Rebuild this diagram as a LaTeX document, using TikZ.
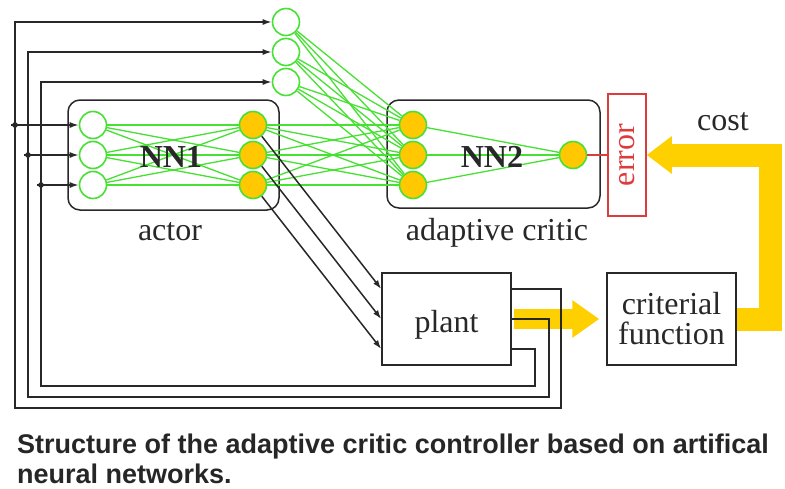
\documentclass[tikz,border=0pt]{standalone}
\usepackage{fontspec}
\setmainfont{Liberation Serif}
\newfontfamily\capfont{Liberation Sans}
\usetikzlibrary{arrows.meta}
\definecolor{nngreen}{RGB}{70,225,50}
\definecolor{nnyellow}{RGB}{255,200,0}
\definecolor{flowyellow}{RGB}{255,208,0}
\definecolor{errred}{RGB}{220,60,60}
\definecolor{linegray}{RGB}{40,40,40}
\begin{document}
\begin{tikzpicture}[x=1pt,y=-1pt,
  box/.style={draw=linegray,line width=1.5pt,rectangle,inner sep=0pt},
  nnbox/.style={box,rounded corners=12pt},
  inneuron/.style={circle,draw=nngreen,fill=white,line width=1.6pt,minimum size=27pt,inner sep=0pt},
  outneuron/.style={inneuron,fill=nnyellow},
  syn/.style={draw=nngreen,line width=1.3pt},
  sig/.style={draw=linegray,line width=1.5pt,-{Latex[length=9pt,width=6pt]}},
  flowA/.style={draw=flowyellow,line width=20pt,-{Triangle[length=27pt,width=36pt]}},
  flowB/.style={draw=flowyellow,line width=23pt,-{Triangle[length=25pt,width=36pt]}},
  txt/.style={font=\fontsize{32}{30}\selectfont,text=linegray,inner sep=0pt},
  lbl/.style={txt,anchor=base},
  nnlbl/.style={txt,font=\fontsize{32}{30}\selectfont\bfseries},
]
\useasboundingbox (0,0) rectangle (785,488);

% boxes
\node[nnbox,minimum width=211pt,minimum height=110pt] (actor) at (173.5,155) {};
\node[nnbox,minimum width=213pt,minimum height=108pt] (critic) at (493.5,154) {};
\node[box,draw=errred,minimum width=38pt,minimum height=122pt,text=errred,font=\fontsize{32}{30}\selectfont] (error) at (627,155) {\rotatebox{90}{error}};
\node[box,minimum width=129pt,minimum height=92pt] (plant) at (446.5,319) {};
\node[box,minimum width=129pt,minimum height=92pt,txt,align=center] (crit) at (671.5,319) {criterial\\function};

% yellow flows
\coordinate (costcorner) at (770,319);
\draw[flowA] ([xshift=2pt]plant.east) -- ([xshift=-7pt]crit.west);
\draw[flowB] (crit.east) -- (costcorner) |- (error.east);

% neurons
\foreach \i/\y in {1/125,2/155,3/185} {
  \node[inneuron] (a\i) at (93,\y) {};
  \node[outneuron] (b\i) at (253,\y) {};
  \node[outneuron] (c\i) at (413,\y) {};
}
\foreach \i/\y in {1/22,2/52,3/82} \node[inneuron] (t\i) at (286,\y) {};
\node[outneuron] (co) at (573,155) {};

% synapses
\foreach \i in {1,2,3} {
  \foreach \j in {1,2,3} {
    \draw[syn] (a\i) -- (b\j);
    \draw[syn] (b\i) -- (c\j);
    \draw[syn] (t\i) -- (c\j);
  }
  \draw[syn] (c\i) -- (co);
}
\draw[errred,line width=1.2pt] (co) -- (error);

% labels
\node[nnlbl] (nn1) at (171,157) {NN1};
\node[nnlbl] (nn2) at (492,157) {NN2};
\node[lbl] (actorlbl) at (170,240) {actor};
\node[lbl] (criticlbl) at (497,240) {adaptive critic};
\node[lbl] (costlbl) at (723,130) {cost};
\node[lbl] (plantlbl) at (446.5,332) {plant};

% actor to plant
\draw[sig] (b1) -- ([yshift=30pt]plant.west);
\draw[sig] (b2) -- (plant.west);
\draw[sig] (b3) -- ([yshift=-30pt]plant.west);

% feedback loops
\draw[sig] ([yshift=30pt]plant.east) -| (561,408) -| (15,22) -- (t1);
\draw[sig] (plant.east) -| (549,397) -| (28,52) -- (t2);
\draw[sig] ([yshift=-30pt]plant.east) -| (535,386) -| (41,82) -- (t3);

% junctions and actor inputs
\coordinate (j1) at (15,125);
\coordinate (j2) at (28,155);
\coordinate (j3) at (41,185);
\foreach \k in {1,2,3} {
  \fill[linegray] (j\k) circle (2.8pt);
  \draw[sig] ([xshift=-4pt]j\k) -- (a\k);
}

% caption
\node[anchor=north west,inner sep=0pt,align=left,text=black!85,
  font=\capfont\bfseries\fontsize{27}{30}\selectfont] (caption) at (17,434)
  {Structure of the adaptive critic controller based on artifical\\neural networks.};
\end{tikzpicture}
\end{document}
